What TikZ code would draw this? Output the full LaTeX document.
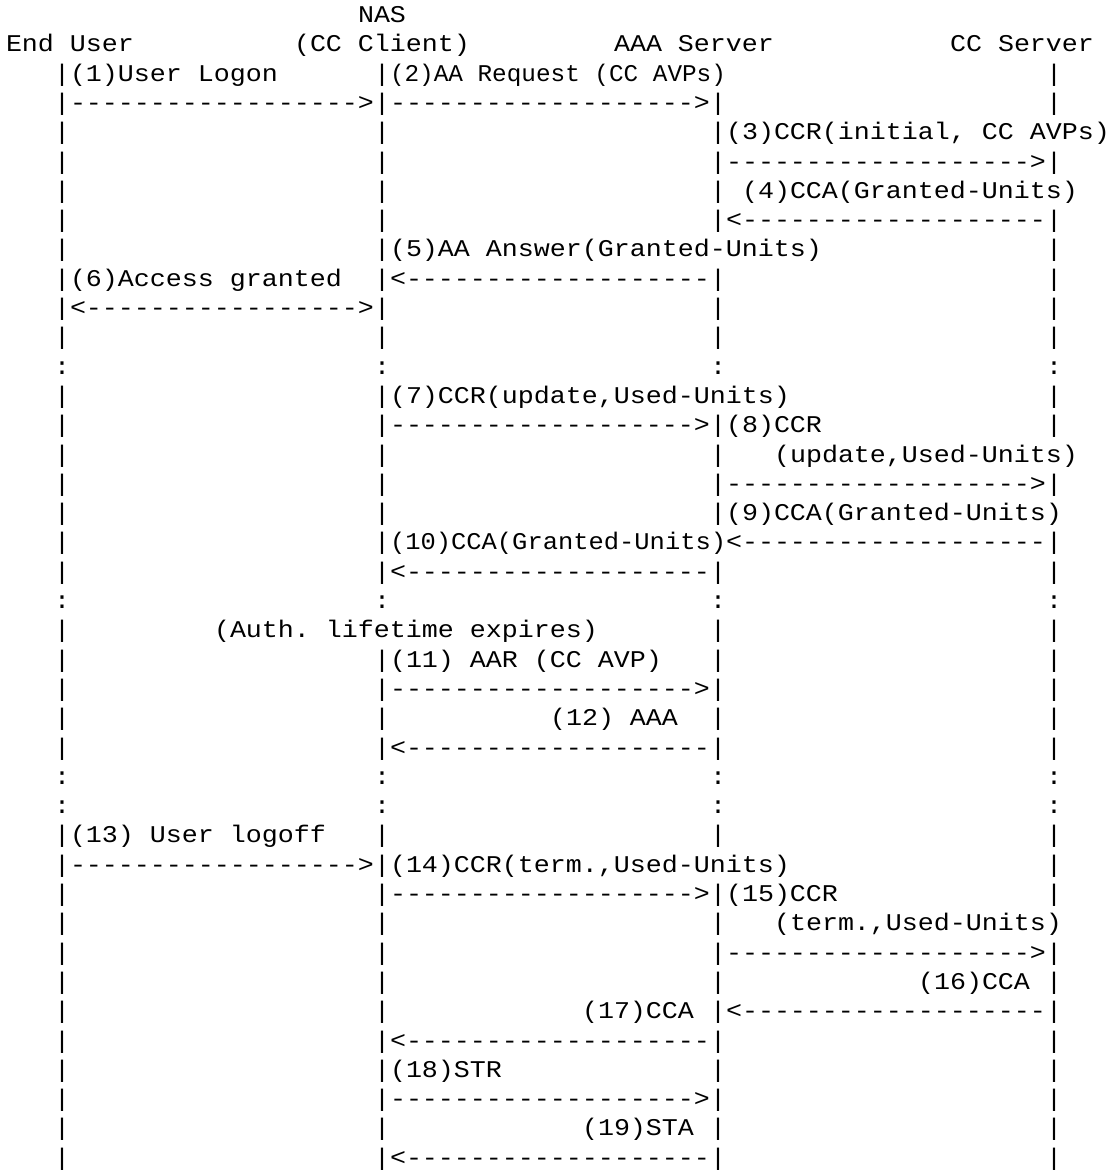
\documentclass[tikz,border=0pt]{standalone}
\usepackage{graphicx}
\usepackage{fontspec}
\newfontfamily\gridmono[FakeStretch=1.111,Ligatures=TeXOff]{Liberation Mono}
\frenchspacing
\tikzset{
  cell/.style={inner sep=0pt,outer sep=0pt,anchor=base west},
  bar/.style={cell,font=\gridmono\fontsize{24}{29}\selectfont},
  msg/.style={bar},
}
% squeeze a label into fewer cells
\newcommand{\squeeze}[2]{\scalebox{#1}[1]{#2}}

\begin{document}
\begin{tikzpicture}[x=16pt,y=-29.3pt]
  \useasboundingbox (-0.375,0.232) rectangle (69.0625,40.198);
  % Headers
  \node[msg] (nas) at (22,1) {NAS};
  \node[msg] (enduser) at (0,2) {End User};
  \node[msg] (ccclient) at (18,2) {(CC Client)};
  \node[msg] (aaaserver) at (38,2) {AAA Server};
  \node[msg] (ccserver) at (59,2) {CC Server};
  % Lifelines
  \foreach \r in {3,4,5,6,7,8,9,10,11,12,14,15,16,17,18,19,20,22,23,24,25,26,29,30,31,32,33,34,35,36,37,38,39,40}
    \node[bar] (a\r) at (3,\r) {|};
  \foreach \r in {3,4,5,6,7,8,9,10,11,12,14,15,16,17,18,19,20,23,24,25,26,29,30,31,32,33,34,35,36,37,38,39,40}
    \node[bar] (b\r) at (23,\r) {|};
  \foreach \r in {4,5,6,7,8,10,11,12,15,16,17,18,20,22,23,24,25,26,29,31,32,33,34,35,36,37,38,39,40}
    \node[bar] (c\r) at (44,\r) {|};
  \foreach \r in {3,4,6,8,9,10,11,12,14,15,17,19,20,22,23,24,25,26,29,30,31,33,34,35,36,37,38,39,40}
    \node[bar] (d\r) at (65,\r) {|};
  \foreach \c/\n in {3/a,23/b,44/c,65/d}
    \foreach \r in {13,21,27,28}
      \node[bar] (\n\r) at (\c,\r) {:};
  % Messages
  \node[msg] (m1) at (4,3) {(1)User Logon};
  \node[bar] (m1a) at (4,4) {------------------>};
  \node[msg] (m2) at (24,3) {\squeeze{0.913}{(2)AA Request (CC AVPs)}};
  \node[bar] (m2a) at (24,4) {------------------->};
  \node[msg] (m3) at (45,5) {(3)CCR(initial, CC AVPs)};
  \node[bar] (m3a) at (45,6) {------------------->};
  \node[msg] (m4) at (46,7) {(4)CCA(Granted-Units)};
  \node[bar] (m4a) at (45,8) {<-------------------};
  \node[msg] (m5) at (24,9) {(5)AA Answer(Granted-Units)};
  \node[bar] (m5a) at (24,10) {<-------------------};
  \node[msg] (m6) at (4,10) {(6)Access granted};
  \node[bar] (m6a) at (4,11) {<----------------->};
  \node[msg] (m7) at (24,14) {(7)CCR(update,Used-Units)};
  \node[bar] (m7a) at (24,15) {------------------->};
  \node[msg] (m8) at (45,15) {(8)CCR};
  \node[msg] (m8b) at (48,16) {(update,Used-Units)};
  \node[bar] (m8a) at (45,17) {------------------->};
  \node[msg] (m9) at (45,18) {(9)CCA(Granted-Units)};
  \node[bar] (m9a) at (45,19) {<-------------------};
  \node[msg] (m10) at (24,19) {\squeeze{0.955}{(10)CCA(Granted-Units)}};
  \node[bar] (m10a) at (24,20) {<-------------------};
  \node[msg] (expire) at (13,22) {(Auth. lifetime expires)};
  \node[msg] (m11) at (24,23) {(11) AAR (CC AVP)};
  \node[bar] (m11a) at (24,24) {------------------->};
  \node[msg] (m12) at (34,25) {(12) AAA};
  \node[bar] (m12a) at (24,26) {<-------------------};
  \node[msg] (m13) at (4,29) {(13) User logoff};
  \node[bar] (m13a) at (4,30) {------------------>};
  \node[msg] (m14) at (24,30) {(14)CCR(term.,Used-Units)};
  \node[bar] (m14a) at (24,31) {------------------->};
  \node[msg] (m15) at (45,31) {(15)CCR};
  \node[msg] (m15b) at (48,32) {(term.,Used-Units)};
  \node[bar] (m15a) at (45,33) {------------------->};
  \node[msg] (m16) at (57,34) {(16)CCA};
  \node[bar] (m16a) at (45,35) {<-------------------};
  \node[msg] (m17) at (36,35) {(17)CCA};
  \node[bar] (m17a) at (24,36) {<-------------------};
  \node[msg] (m18) at (24,37) {(18)STR};
  \node[bar] (m18a) at (24,38) {------------------->};
  \node[msg] (m19) at (36,39) {(19)STA};
  \node[bar] (m19a) at (24,40) {<-------------------};
\end{tikzpicture}
\end{document}
